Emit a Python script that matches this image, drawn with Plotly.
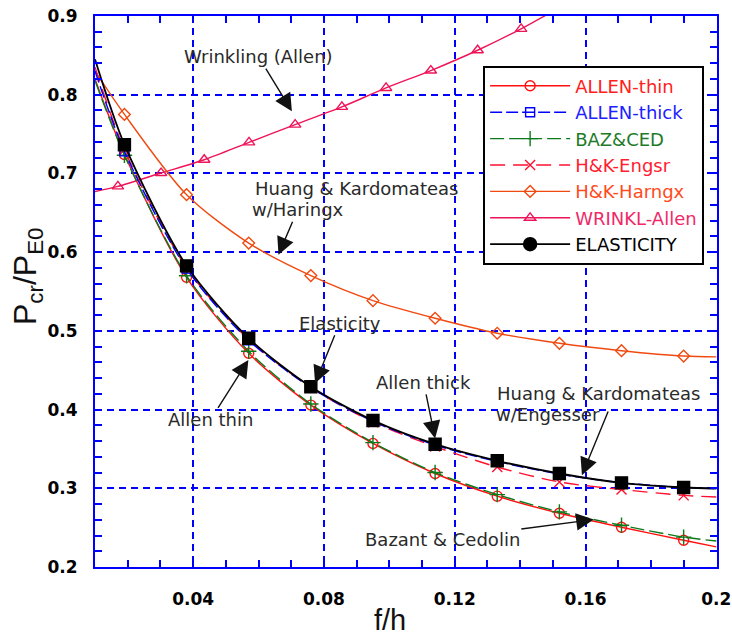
import plotly.graph_objects as go

# ---------------- data ----------------
X_CURVE = [0.010, 0.019, 0.038, 0.057, 0.076, 0.095, 0.114, 0.133, 0.152, 0.171, 0.190, 0.200]

ALLEN_THIN = [0.820, 0.724, 0.568, 0.4715, 0.4057, 0.357, 0.3188, 0.290, 0.2683, 0.2505, 0.234, 0.2255]
ALLEN_THICK = [0.830, 0.728, 0.579, 0.488, 0.428, 0.385, 0.355, 0.334, 0.318, 0.307, 0.301, 0.2995]
BAZ_CED = [0.818, 0.723, 0.570, 0.474, 0.407, 0.358, 0.320, 0.292, 0.270, 0.253, 0.238, 0.233]
HK_ENGSR = [0.835, 0.730, 0.580, 0.489, 0.428, 0.384, 0.353, 0.327, 0.308, 0.2985, 0.291, 0.289]
HK_HARNGX = [0.830, 0.775, 0.673, 0.6115, 0.5702, 0.5384, 0.516, 0.497, 0.4842, 0.4748, 0.468, 0.467]
ELASTICITY = [0.845, 0.7365, 0.5826, 0.4906, 0.429, 0.3862, 0.356, 0.3349, 0.3188, 0.3069, 0.301, 0.2997]

WRINKL_X = [0.010, 0.0170, 0.0302, 0.0434, 0.0571, 0.0712, 0.0855, 0.0990, 0.1127, 0.1270, 0.1403, 0.1500]
WRINKL_Y = [0.677, 0.6835, 0.7005, 0.7174, 0.7395, 0.762, 0.7845, 0.8086, 0.8307, 0.8565, 0.8837, 0.9060]

X_TICKS = [0.04, 0.08, 0.12, 0.16, 0.2]
X_TICK_TEXT = ["0.04", "0.08", "0.12", "0.16", "0.2"]
Y_TICKS = [0.2, 0.3, 0.4, 0.5, 0.6, 0.7, 0.8, 0.9]
Y_TICK_TEXT = ["0.2", "0.3", "0.4", "0.5", "0.6", "0.7", "0.8", "0.9"]

LEGEND_NAMES = ["ALLEN-thin", "ALLEN-thick", "BAZ&CED", "H&K-Engsr", "H&K-Harngx", "WRINKL-Allen", "ELASTICITY"]

# ---------------- styles ----------------
BLUE = "#0000FF"
styles = {
    "ALLEN-thin":   dict(color="#FF1010", text="#FF2020", dash="solid", sym="circle-open", size=10, lw=1.4),
    "ALLEN-thick":  dict(color="#0000FF", text="#2020FF", dash="12px,4px", sym="square-open", size=9, lw=1.4),
    "BAZ&CED":      dict(color="#0A7A1A", text="#1E7A28", dash="14px,5px", sym="cross-thin-open", size=11, lw=1.4),
    "H&K-Engsr":    dict(color="#FF1030", text="#FF2030", dash="15px,8px", sym="x-thin-open", size=10, lw=1.4),
    "H&K-Harngx":   dict(color="#F04A10", text="#FF4A20", dash="solid", sym="diamond-open", size=9, lw=1.4),
    "WRINKL-Allen": dict(color="#EE1458", text="#F02868", dash="solid", sym="triangle-up-open", size=10, lw=1.4),
    "ELASTICITY":   dict(color="#000000", text="#000000", dash="solid", sym="square", size=12, lw=1.8),
}

series = [
    ("WRINKL-Allen", WRINKL_X, WRINKL_Y),
    ("H&K-Harngx", X_CURVE, HK_HARNGX),
    ("ALLEN-thin", X_CURVE, ALLEN_THIN),
    ("BAZ&CED", X_CURVE, BAZ_CED),
    ("H&K-Engsr", X_CURVE, HK_ENGSR),
    ("ALLEN-thick", X_CURVE, ALLEN_THICK),
    ("ELASTICITY", X_CURVE, ELASTICITY),
]

fig = go.Figure()

for name, xs, ys in series:
    st = styles[name]
    fig.add_trace(go.Scatter(
        x=xs, y=ys, mode="lines", showlegend=False, hoverinfo="skip",
        line=dict(color=st["color"], width=st["lw"], dash=st["dash"], shape="spline", smoothing=0.8),
    ))
    fig.add_trace(go.Scatter(
        x=xs[1:-1], y=ys[1:-1], mode="markers", showlegend=False,
        marker=dict(symbol=st["sym"], size=st["size"], color=st["color"],
                    line=dict(color=st["color"], width=1.4)),
    ))

# legend-only entries
for name in LEGEND_NAMES:
    st = styles[name]
    sym = "circle" if name == "ELASTICITY" else st["sym"]
    fig.add_trace(go.Scatter(
        x=[None], y=[None], mode="lines+markers",
        name='<span style="color:%s">%s</span>' % (st["text"], name.replace("&", "&amp;")),
        line=dict(color=st["color"], width=st["lw"], dash=st["dash"]),
        marker=dict(symbol=sym, size=st["size"] if name != "ELASTICITY" else 13, color=st["color"],
                    line=dict(color=st["color"], width=1.4)),
    ))

# ---------------- annotations ----------------
TXT_FONT = dict(family="DejaVu Sans", size=18, color="#2a2a2a")
# (text, text x, text y, anchor, arrow tip x, arrow tip y)
texts = [
    ("Wrinkling (Allen)", 0.0600, 0.8485, "center", 0.0702, 0.7789),
    ("Huang &amp; Kardomateas", 0.0584, 0.6812, "left", None, None),
    ("w/Haringx", 0.07197, 0.6538, "center", 0.0661, 0.5966),
    ("Elasticity", 0.0848, 0.5098, "center", 0.0773, 0.4333),
    ("Allen thin", 0.0453, 0.3869, "center", 0.0569, 0.4630),
    ("Allen thick", 0.1105, 0.4346, "center", 0.1140, 0.3634),
    ("Huang &amp; Kardomateas", 0.1324, 0.4207, "left", None, None),
    ("w/Engesser", 0.1319, 0.3933, "left", None, None),
    ("Bazant &amp; Cedolin", 0.1162, 0.2352, "center", 0.1625, 0.2603),
]
for t, x, y, anc, tx, ty in texts:
    if tx is None:
        fig.add_annotation(x=x, y=y, xref="x", yref="y", text=t, showarrow=False,
                           xanchor=anc, yanchor="middle", font=TXT_FONT)
    else:
        fig.add_annotation(x=tx, y=ty, ax=x, ay=y, xref="x", yref="y", axref="x", ayref="y",
                           text=t, showarrow=True, arrowhead=2, arrowsize=2.5, arrowwidth=1.4,
                           arrowcolor="#111111", standoff=0, startstandoff=0,
                           xanchor="center", yanchor="middle", font=TXT_FONT)

# free-standing arrow (Engesser label): tip, tail
fig.add_annotation(x=0.1589, y=0.3167, ax=0.1671, ay=0.3994, xref="x", yref="y",
                   axref="x", ayref="y", text="", showarrow=True, arrowhead=2,
                   arrowsize=2.5, arrowwidth=1.4, arrowcolor="#111111",
                   standoff=0, startstandoff=0)

# axis titles as text annotations (placed like the reference)
fig.add_annotation(xref="paper", yref="paper", x=-0.1093, y=0.528, textangle=-90,
                   text="P<sub>cr</sub>/P<sub>E0</sub>", showarrow=False,
                   xanchor="center", yanchor="middle",
                   font=dict(family="Liberation Sans", size=32, color="#111111"))
fig.add_annotation(xref="paper", yref="paper", x=0.474, y=-0.0963,
                   text="f/h", showarrow=False, xanchor="center", yanchor="middle",
                   font=dict(family="Liberation Sans", size=29, color="#111111"))

TICK_FONT = dict(family="DejaVu Sans", size=17, color="#000000", weight="bold")
axis_common = dict(
    showline=True, linecolor=BLUE, linewidth=2, mirror="ticks",
    ticks="inside", ticklen=7, tickwidth=1.5, tickcolor=BLUE,
    showgrid=True, gridcolor=BLUE, gridwidth=1.6, griddash="7px,5px",
    zeroline=False, tickfont=TICK_FONT, automargin=False,
)

fig.update_xaxes(range=[0.01, 0.2002], tickvals=X_TICKS, ticktext=X_TICK_TEXT,
                 minor=dict(dtick=0.01, tick0=0, ticks="inside", ticklen=7, tickwidth=1.5,
                            tickcolor=BLUE, showgrid=False),
                 ticklabelstandoff=16, **axis_common)
fig.update_yaxes(range=[0.2, 0.9], tickvals=Y_TICKS, ticktext=Y_TICK_TEXT,
                 minor=dict(dtick=0.02, tick0=0, ticks="inside", ticklen=7, tickwidth=1.5,
                            tickcolor=BLUE, showgrid=False),
                 ticklabelstandoff=12, **axis_common)

fig.update_layout(
    width=732, height=637, autosize=False,
    margin=dict(l=95, r=15, t=16, b=70, pad=0, autoexpand=False),
    paper_bgcolor="white", plot_bgcolor="white",
    showlegend=True,
    legend=dict(x=0.624, y=0.91, xanchor="left", yanchor="top",
                bgcolor="white", bordercolor="#000000", borderwidth=2,
                font=dict(family="DejaVu Sans", size=18, color="#000000"),
                itemwidth=80, tracegroupgap=0),
)

fig.write_html("out.html")
